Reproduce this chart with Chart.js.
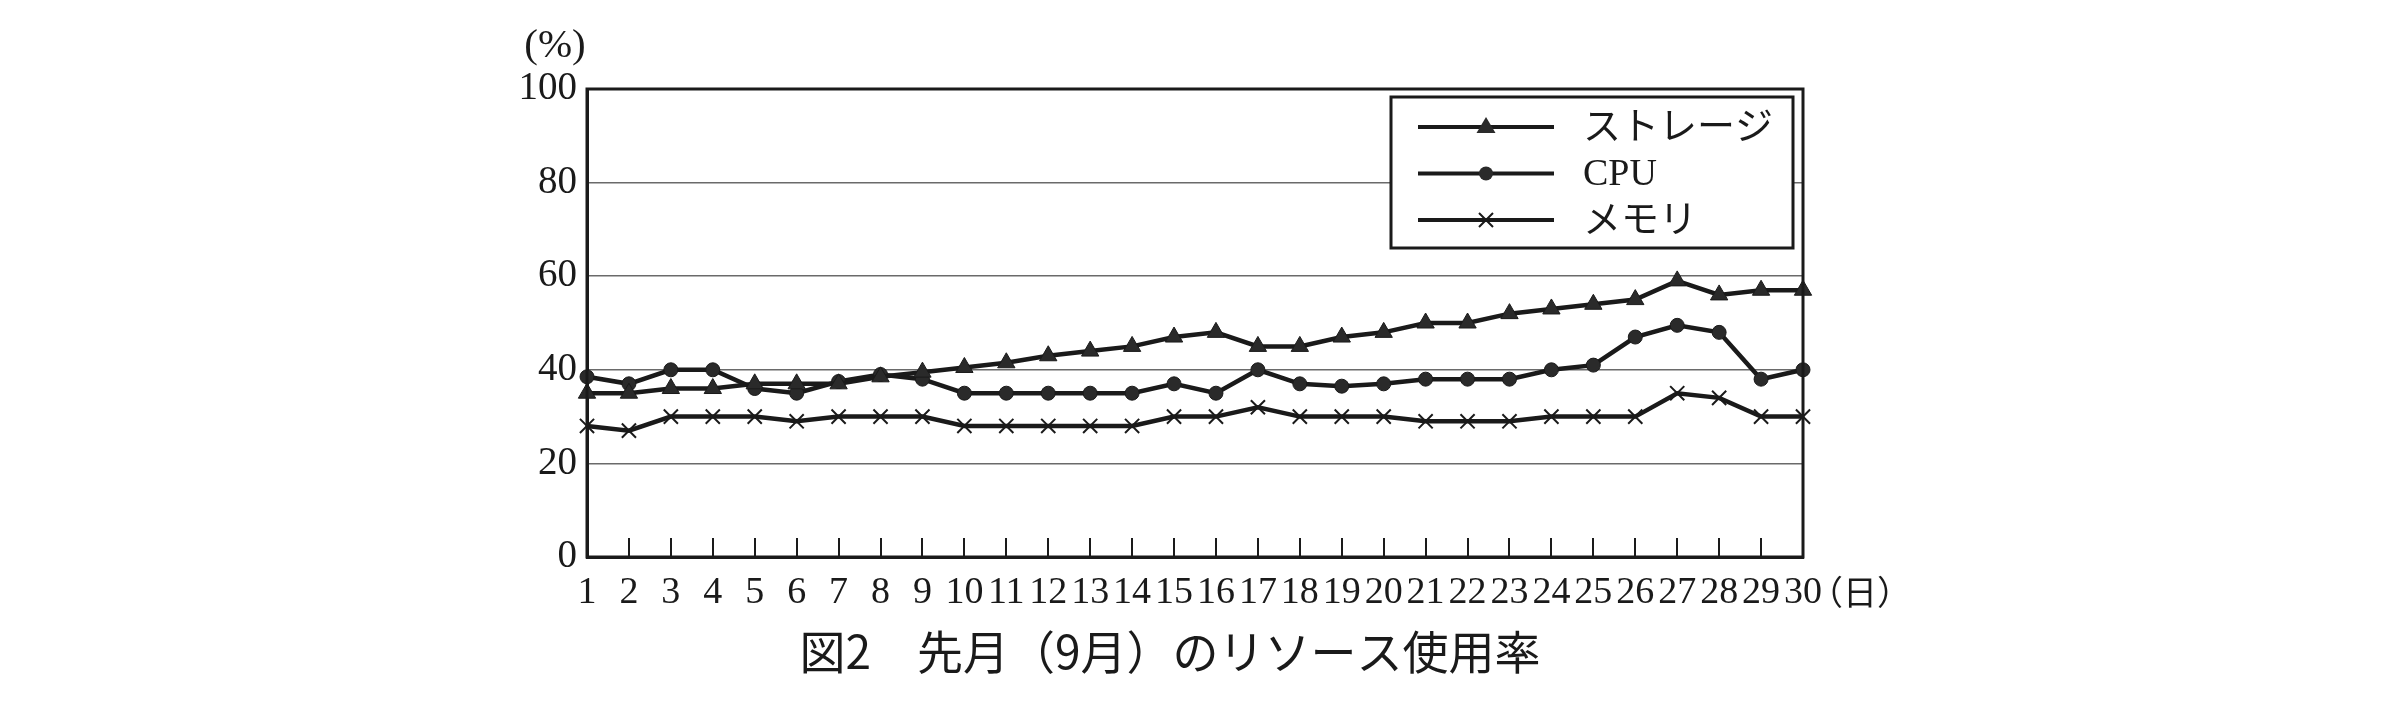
<!DOCTYPE html>
<html>
<head>
<meta charset="utf-8">
<script src="https://cdn.jsdelivr.net/npm/chart.js"></script>
<style>
  html, body { margin: 0; padding: 0; background: #fff; }
  canvas { display: block; }
</style>
</head>
<body>
<canvas id="usageChart" width="2390" height="702"></canvas>
<script>
// days of September
const days = ['1','2','3','4','5','6','7','8','9','10','11','12','13','14','15',
              '16','17','18','19','20','21','22','23','24','25','26','27','28','29','30'];

const storage = [35, 35, 36, 36, 37, 37, 37, 38.5, 39.5, 40.5, 41.5, 43, 44, 45, 47,
                 48, 45, 45, 47, 48, 50, 50, 52, 53, 54, 55, 59, 56, 57, 57];
const cpu = [38.5, 37, 40, 40, 36, 35, 37.5, 39, 38, 35, 35, 35, 35, 35, 37,
             35, 40, 37, 36.5, 37, 38, 38, 38, 40, 41, 47, 49.5, 48, 38, 40];
const memory = [28, 27, 30, 30, 30, 29, 30, 30, 30, 28, 28, 28, 28, 28, 30,
                30, 32, 30, 30, 30, 29, 29, 29, 30, 30, 30, 35, 34, 30, 30];

const yTicks = [0, 20, 40, 60, 80, 100];
const seriesNames = ['ストレージ', 'CPU', 'メモリ'];
const caption = '図2　先月（9月）のリソース使用率';

const INK = '#1a1a1a';
const serif = '"Liberation Serif", "Noto Sans CJK JP", serif';
const gothic = '"Noto Sans CJK JP", sans-serif';

function drawMarker(ctx, style, r, x, y) {
    ctx.beginPath();
    if (style === 'triangle') {
        ctx.moveTo(x, y - r);
        ctx.lineTo(x + r * 0.95, y + r * 0.6);
        ctx.lineTo(x - r * 0.95, y + r * 0.6);
        ctx.closePath();
        ctx.fill();
    } else if (style === 'circle') {
        ctx.arc(x, y, r, 0, Math.PI * 2);
        ctx.fill();
    } else {
        ctx.lineWidth = 2;
        ctx.moveTo(x - r * 0.7, y - r * 0.7);
        ctx.lineTo(x + r * 0.7, y + r * 0.7);
        ctx.moveTo(x + r * 0.7, y - r * 0.7);
        ctx.lineTo(x - r * 0.7, y + r * 0.7);
        ctx.stroke();
    }
}

// frame, unit labels, caption and the boxed legend
const extras = {
    id: 'extras',
    afterDraw(chart) {
        const ctx = chart.ctx;
        const a = chart.chartArea;
        const x = chart.scales.x;
        ctx.save();

        ctx.strokeStyle = INK;
        ctx.lineWidth = 3;
        ctx.strokeRect(a.left, a.top, a.right - a.left, a.bottom - a.top);

        ctx.fillStyle = INK;
        ctx.font = '41px ' + serif;
        ctx.textAlign = 'center';
        ctx.textBaseline = 'middle';
        ctx.fillText('(%)', a.left - 32, 46);

        ctx.font = '34px ' + gothic;
        ctx.textAlign = 'left';
        ctx.fillText('（日）', x.getPixelForValue(29) + 6, 592);

        ctx.font = '46px ' + gothic;
        ctx.textAlign = 'center';
        ctx.fillText(caption, 1170, 652);

        // legend box
        const lx = 1391, ly = 97, lw = 402, lh = 151;
        ctx.fillStyle = '#fff';
        ctx.fillRect(lx, ly, lw, lh);
        ctx.strokeStyle = INK;
        ctx.lineWidth = 3;
        ctx.strokeRect(lx, ly, lw, lh);

        chart.data.datasets.forEach((ds, i) => {
            const cy = 127 + i * 46.5;
            ctx.strokeStyle = INK;
            ctx.lineWidth = 4;
            ctx.beginPath();
            ctx.moveTo(1418, cy);
            ctx.lineTo(1554, cy);
            ctx.stroke();
            ctx.fillStyle = ds.pointBackgroundColor;
            ctx.strokeStyle = INK;
            drawMarker(ctx, ds.pointStyle, ds.pointRadius, 1486, cy);
            ctx.fillStyle = INK;
            ctx.font = '38px ' + serif;
            ctx.textAlign = 'left';
            ctx.textBaseline = 'middle';
            ctx.fillText(ds.label, 1583, cy + 2);
        });
        ctx.restore();
    }
};

const ctx = document.getElementById('usageChart').getContext('2d');
const myChart = new Chart(ctx, {
    type: 'line',
    data: {
        labels: days,
        datasets: [{
            label: seriesNames[0],
            data: storage,
            borderColor: INK,
            borderWidth: 4.5,
            pointStyle: 'triangle',
            pointRadius: 10,
            pointBackgroundColor: '#2a2a2a',
            pointBorderColor: INK,
            pointBorderWidth: 1
        }, {
            label: seriesNames[1],
            data: cpu,
            borderColor: INK,
            borderWidth: 4.5,
            pointStyle: 'circle',
            pointRadius: 7,
            pointBackgroundColor: '#2a2a2a',
            pointBorderColor: INK,
            pointBorderWidth: 1
        }, {
            label: seriesNames[2],
            data: memory,
            borderColor: INK,
            borderWidth: 4.5,
            pointStyle: 'crossRot',
            pointRadius: 10,
            pointBackgroundColor: INK,
            pointBorderColor: INK,
            pointBorderWidth: 2
        }]
    },
    options: {
        responsive: false,
        animation: false,
        devicePixelRatio: 1,
        layout: { padding: { top: 89, right: 587, bottom: 0, left: 0 } },
        plugins: {
            legend: { display: false },
            tooltip: { enabled: false }
        },
        scales: {
            x: {
                offset: false,
                grid: {
                    drawOnChartArea: false,
                    drawTicks: true,
                    tickLength: -19,
                    color: INK,
                    lineWidth: 2
                },
                border: { display: true, color: INK, width: 3 },
                ticks: {
                    autoSkip: false,
                    maxRotation: 0,
                    padding: 32,
                    color: INK,
                    font: { family: serif, size: 38 }
                },
                afterFit(scale) { scale.height = 145; }
            },
            y: {
                min: 0,
                max: 100,
                afterBuildTicks(scale) { scale.ticks = yTicks.map(v => ({ value: v })); },
                grid: {
                    drawTicks: false,
                    color: '#6a6a6a',
                    lineWidth: 1.5
                },
                border: { display: true, color: INK, width: 3 },
                ticks: {
                    padding: 10,
                    color: INK,
                    font: { family: serif, size: 39 }
                },
                afterFit(scale) { scale.width = 587; }
            }
        }
    },
    plugins: [extras]
});
</script>
</body>
</html>
